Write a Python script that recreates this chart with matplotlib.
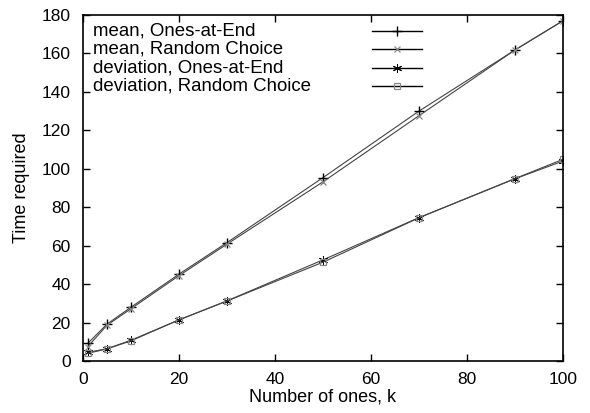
import matplotlib
matplotlib.use("Agg")
import matplotlib.pyplot as plt

plt.rcParams["font.family"] = ["Liberation Sans", "DejaVu Sans"]
plt.rcParams["font.size"] = 13

# values
k = [1, 5, 10, 20, 30, 50, 70, 90, 100]
mean_ones_end = [9.2, 19.2, 28.0, 45.2, 61.6, 95.4, 130.0, 161.8, 177.0]
mean_random = [7.5, 18.6, 27.2, 44.4, 60.8, 93.2, 127.6, 161.8, 177.0]
dev_ones_end = [4.5, 6.4, 10.8, 21.4, 31.3, 52.6, 74.6, 94.8, 104.0]
dev_random = [4.0, 6.3, 10.5, 21.4, 31.2, 51.4, 74.5, 94.9, 104.9]

series = [
    ("mean, Ones-at-End", mean_ones_end, "+", "black", 7, 1.0),
    ("mean, Random Choice", mean_random, "x", "#888888", 5, 0.9),
    ("deviation, Ones-at-End", dev_ones_end, (6, 2, 0), "black", 6.5, 0.7),
    ("deviation, Random Choice", dev_random, "s", "#888888", 4.5, 0.9),
]

fig = plt.figure(figsize=(5.9, 4.13), dpi=100)
ax = fig.add_axes([0.1407, 0.1259, 0.8135, 0.8378])

line_color = "#444444"
for i, (label, vals, mk, mc, ms, mew) in enumerate(series):
    ax.plot(k, vals, color=line_color, lw=0.8, marker=mk, markersize=ms,
            markeredgecolor=mc, markerfacecolor="none", markeredgewidth=mew)
    # gnuplot-style key: text on the left, sample on the right
    y = 0.954 - i * 0.053
    ax.text(0.021, y, label, transform=ax.transAxes, va="center", ha="left",
            fontsize=13.4)
    ax.plot([0.602, 0.706], [y, y], transform=ax.transAxes, color="black",
            lw=1.0)
    ax.plot([0.654], [y], transform=ax.transAxes, marker=mk, markersize=ms,
            markeredgecolor=mc, markerfacecolor="none", markeredgewidth=mew,
            linestyle="none")

ax.set_xlim(0, 100)
ax.set_ylim(0, 180)
ax.set_xticks(range(0, 101, 20))
ax.set_yticks(range(0, 181, 20))
ax.tick_params(direction="in", length=5, width=1, top=True, right=True,
               labelsize=12.5)
ax.tick_params(axis="y", pad=9)
ax.tick_params(axis="x", pad=8)
for sp in ax.spines.values():
    sp.set_linewidth(1.2)
ax.set_xlabel("Number of ones, k", labelpad=1)
ax.set_ylabel("Time required", labelpad=8)

fig.savefig("out.png", dpi=100)
